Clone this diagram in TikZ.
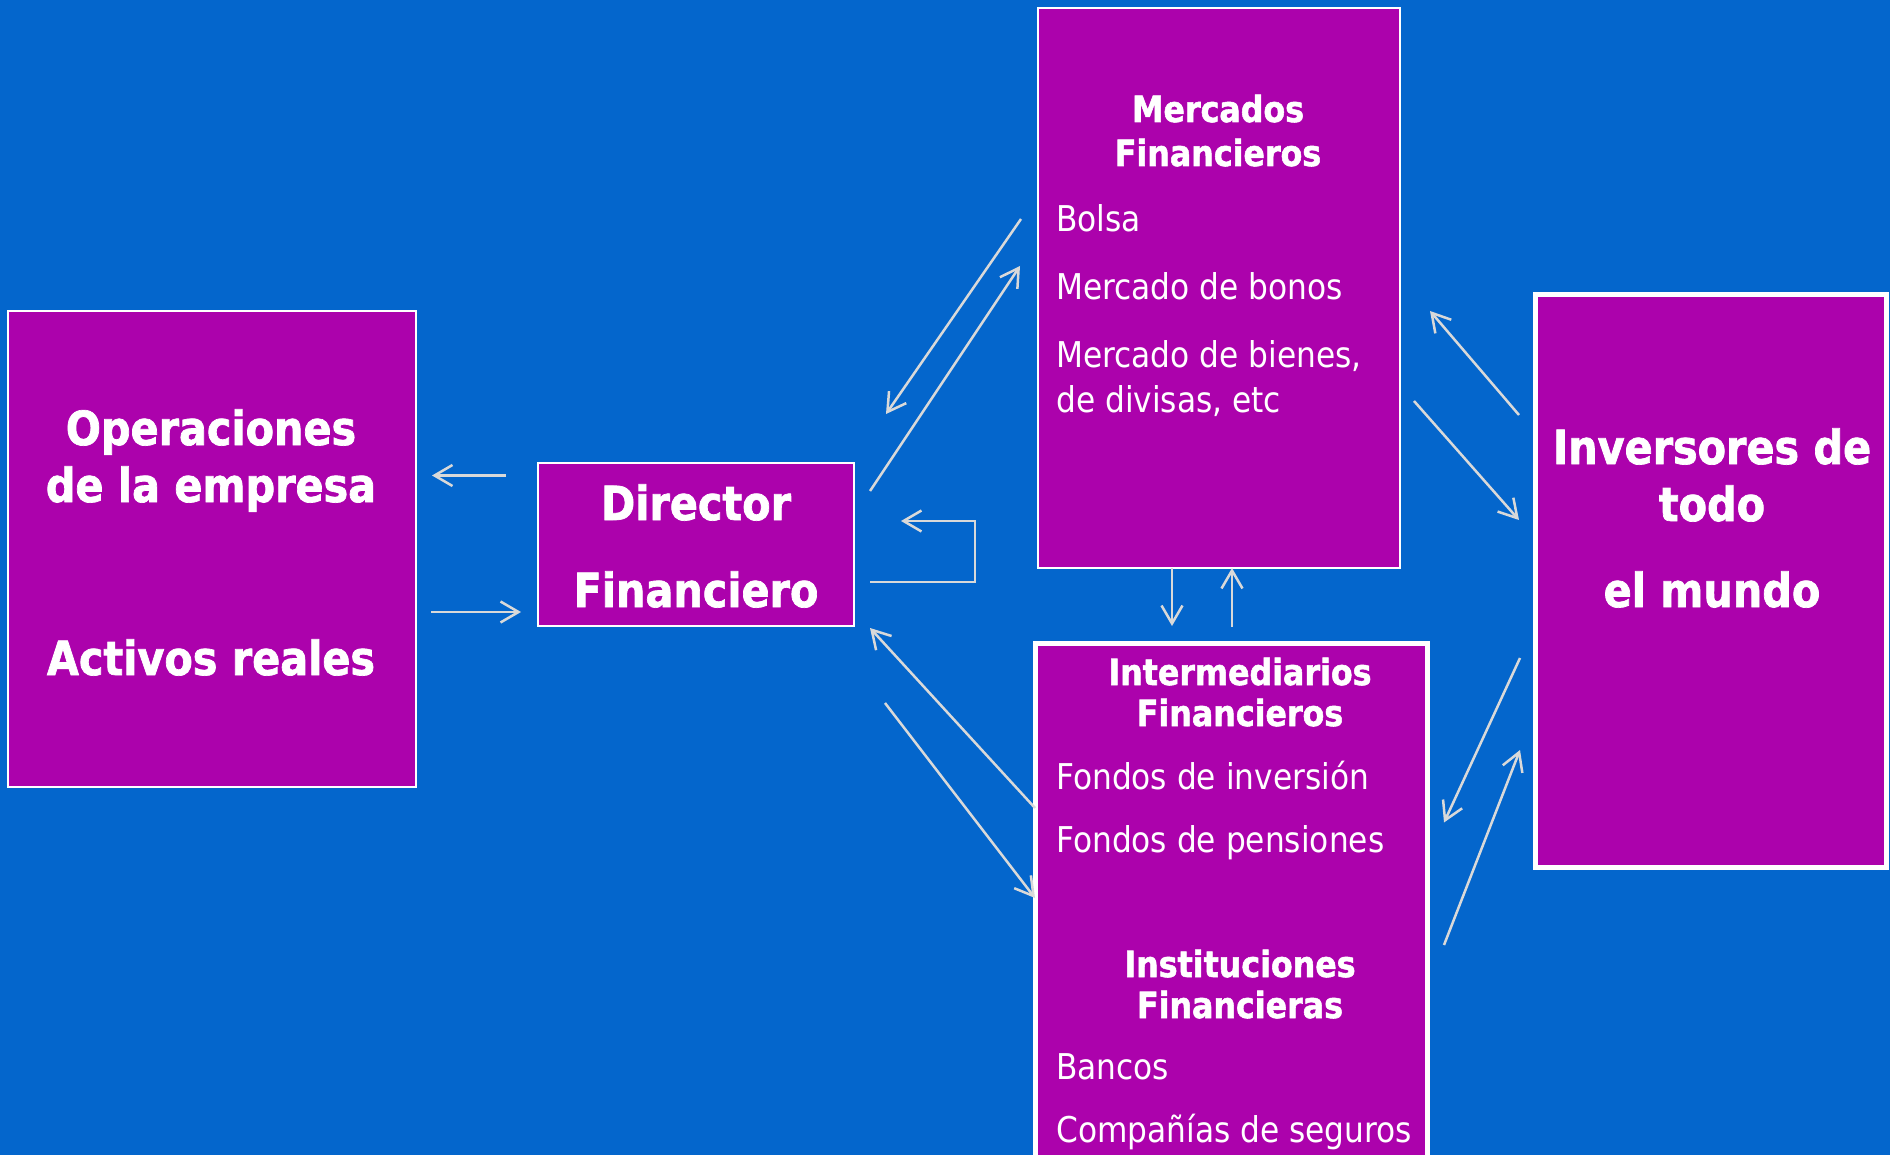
\documentclass[tikz,border=0pt]{standalone}
\usepackage{fontspec}
\setmainfont{DejaVu Sans}[FakeStretch=0.88, BoldFeatures={FakeBold=1.5}]
\usetikzlibrary{arrows.meta}
\definecolor{fondo}{RGB}{4,102,204}
\definecolor{morado}{RGB}{172,2,172}
\definecolor{gris}{RGB}{217,217,217}

\begin{document}
\begin{tikzpicture}[x=1pt, y=-1pt,
    caja/.style={draw=white, fill=morado, line width=2pt, anchor=north west, inner sep=0pt, outer sep=0pt},
    grande/.style={text=white, font=\fontsize{47}{56}\selectfont\bfseries, anchor=base, inner sep=0pt},
    titulo/.style={text=white, font=\fontsize{36}{43}\selectfont\bfseries, anchor=base, inner sep=0pt},
    item/.style={text=white, font=\fontsize{35.5}{43}\selectfont, anchor=base west, inner sep=0pt},
    flecha/.style={draw=gris, line width=2.5pt, -{Straight Barb[length=18pt,width=21pt]}}]

    % Fondo
    \path[use as bounding box, fill=fondo] (0,0) rectangle (1890,1155);
    \clip (0,0) rectangle (1890,1155);

    % Cajas
    \node[caja, minimum width=408pt, minimum height=476pt] (ope) at (8,311) {};
    \node[caja, minimum width=316pt, minimum height=163pt] (dir) at (538,463) {};
    \node[caja, minimum width=362pt, minimum height=560pt] (mer) at (1038,8) {};
    \node[caja, line width=5pt, minimum width=392pt, minimum height=560pt] (int) at (1035.5,643.5) {};
    \node[caja, line width=5pt, minimum width=351pt, minimum height=573pt] (inv) at (1535.5,294.5) {};

    % Operaciones de la empresa
    \node[grande] (ope1) at (211,445) {Operaciones};
    \node[grande] (ope2) at (211,502) {de la empresa};
    \node[grande] (ope3) at (211,675) {Activos reales};

    % Director financiero
    \node[grande] (dir1) at (696,520) {Director};
    \node[grande] (dir2) at (696,607) {Financiero};

    % Mercados financieros
    \node[titulo] (mert1) at (1218,122) {Mercados};
    \node[titulo] (mert2) at (1218,166) {Financieros};
    \foreach \y/\txt [count=\i] in {
        232/Bolsa,
        300/Mercado de bonos,
        368/{Mercado de bienes,},
        412/{de divisas, etc}
        } {
        \node[item] (mer\i) at (1056,\y) {\txt};
    }

    % Intermediarios e instituciones
    \node[titulo] (intt1) at (1240,685) {Intermediarios};
    \node[titulo] (intt2) at (1240,726) {Financieros};
    \node[titulo] (intt3) at (1240,977) {Instituciones};
    \node[titulo] (intt4) at (1240,1018) {Financieras};
    \foreach \y/\txt [count=\i] in {
        789/Fondos de inversión,
        852/Fondos de pensiones,
        1079/Bancos,
        1142/Compañías de seguros
        } {
        \node[item] (int\i) at (1056,\y) {\txt};
    }

    % Inversores
    \node[grande] (inv1) at (1712,464) {Inversores de};
    \node[grande] (inv2) at (1712,521) {todo};
    \node[grande] (inv3) at (1712,607) {el mundo};

    % Extremos de las flechas
    \foreach \n/\x/\y in {
        a1/506/475.5,  b1/432/475.5,
        a2/431/612,    b2/521/612,
        a3/1021/219,   b3/886/414,
        a4/870/491,    b4/1020/266,
        a5/1035/808,   b5/870/628,
        a6/885/703,    b6/1035/898,
        a7/1172/568,   b7/1172/626,
        a8/1232/627,   b8/1232/568,
        a9/1519/415,   b9/1430/311,
        a10/1414/401,  b10/1519/520,
        a11/1520/658,  b11/1444/822.5,
        a12/1444/945,  b12/1520/750,
        lazo1/870/582, lazo2/975/521, lazo3/901/521
        } {
        \coordinate (\n) at (\x,\y);
    }

    % Flechas
    \foreach \i in {1,...,12} {
        \draw[flecha] (a\i) -- (b\i);
    }
    \draw[flecha] (lazo1) -| (lazo2) -- (lazo3);
\end{tikzpicture}
\end{document}
